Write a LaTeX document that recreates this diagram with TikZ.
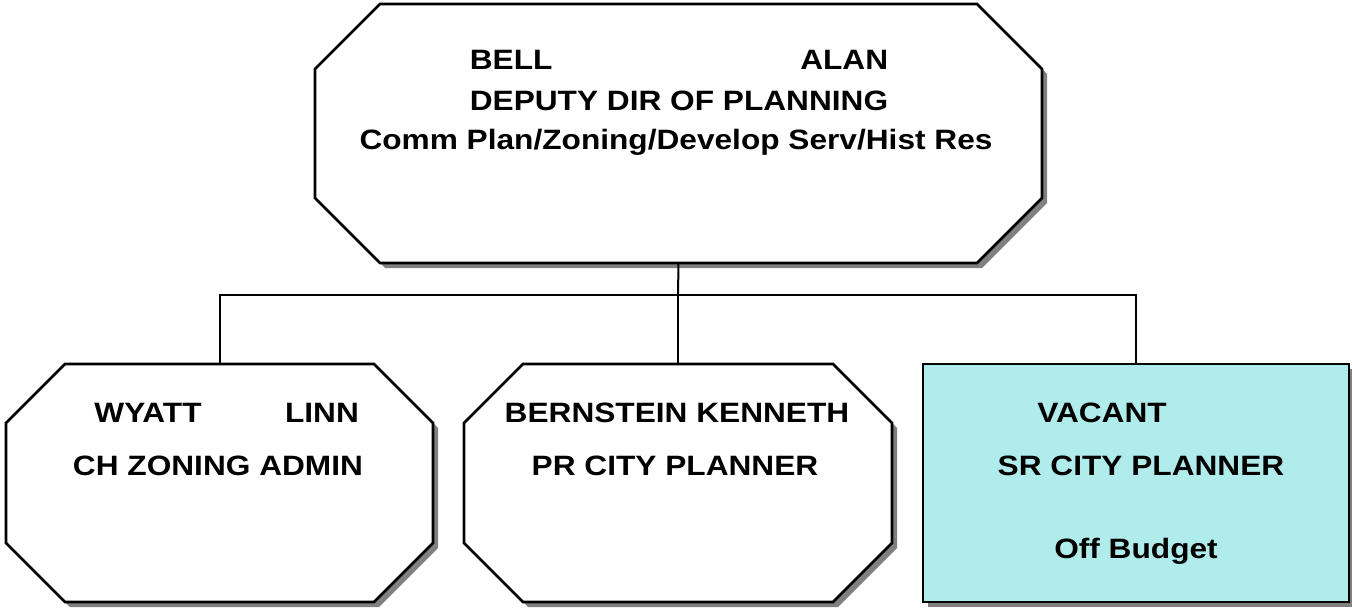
\documentclass[tikz,border=0pt]{standalone}
\usepackage{fontspec}
\setmainfont[FakeStretch=1.13]{Liberation Sans}
\usetikzlibrary{shadows}
\definecolor{offbudget}{RGB}{176,236,235}

% octagonal box drawn on the corners of a named frame node
\newcommand{\octbox}[2]{%
  \draw[postline] ([xshift=#2]#1.north west) -- ([xshift=-#2]#1.north east)
    -- ([yshift=-#2]#1.north east) -- ([yshift=#2]#1.south east)
    -- ([xshift=-#2]#1.south east) -- ([xshift=#2]#1.south west)
    -- ([yshift=#2]#1.south west) -- ([yshift=-#2]#1.north west) -- cycle;}

\begin{document}
\begin{tikzpicture}[x=1pt,y=-1pt,
    frame/.style={inner sep=0pt,outer sep=0pt,rectangle},
    postline/.style={line width=2.8pt,fill=white,line join=miter,
      drop shadow={shadow xshift=5pt,shadow yshift=-5pt,fill=black!50,opacity=1}},
    vacant/.style={draw,line width=2.8pt,fill=offbudget,
      drop shadow={shadow xshift=5pt,shadow yshift=-5pt,fill=black!50,opacity=1}},
    txt/.style={font=\fontsize{28}{32}\selectfont\bfseries,inner sep=0pt}]
  \useasboundingbox (0,0) rectangle (1352,610);

  % boxes
  \node[frame,minimum width=727pt,minimum height=259pt] (dir) at (678.5,133.5) {};
  \node[frame,minimum width=427pt,minimum height=238pt] (zon) at (219.5,483) {};
  \node[frame,minimum width=428pt,minimum height=238pt] (plan) at (678,483) {};
  \node[frame,minimum width=426pt,minimum height=238pt] (sr) at (1136,483) {};
  \octbox{dir}{65pt}
  \octbox{zon}{59pt}
  \octbox{plan}{59pt}
  \draw[vacant] (sr.north west) rectangle (sr.south east);

  % lines
  \draw[line width=2pt] (dir.south) -- (678,295) coordinate (bus);
  \draw[line width=2pt] (zon.north) |- (bus) -| (sr.north);
  \draw[line width=2pt] (bus) -- (plan.north);

  % texts
  \node[txt] (dirtitle) at (679,101) {DEPUTY DIR OF PLANNING};
  \node[txt,anchor=west] (dirlast) at (dirtitle.west |- 0,60) {BELL};
  \node[txt,anchor=east] (dirfirst) at (dirtitle.east |- 0,60) {ALAN};
  \node[txt] (dirunit) at (676,142) {Comm Plan/Zoning/Develop Serv/Hist Res};

  \node[txt] (zontitle) at (218,466) {CH ZONING ADMIN};
  \node[txt] (zonlast) at (148,413) {WYATT};
  \node[txt] (zonfirst) at (322,413) {LINN};

  \node[txt] (planname) at (677,413) {BERNSTEIN KENNETH};
  \node[txt] (plantitle) at (675,466) {PR CITY PLANNER};

  \node[txt] (srname) at (1102,413) {VACANT};
  \node[txt] (srtitle) at (1141,466) {SR CITY PLANNER};
  \node[txt] (srnote) at (1136,551) {Off Budget};
\end{tikzpicture}
\end{document}
